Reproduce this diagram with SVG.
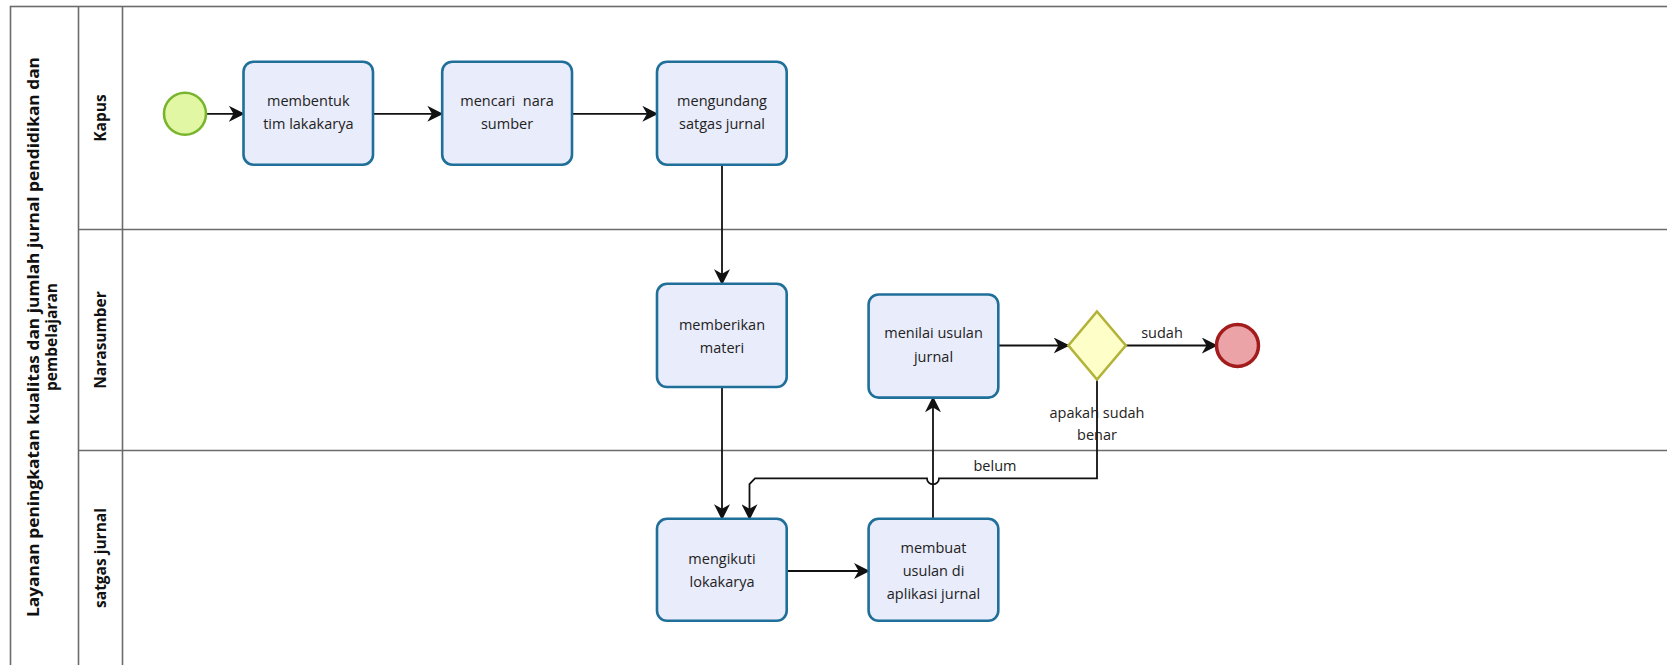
<svg xmlns="http://www.w3.org/2000/svg" width="1667" height="665" viewBox="0 0 1667 665">
<defs>
<style>
.lane{fill:none;stroke:#6b6b6b;stroke-width:1.6}
.task{fill:#e9ecfb;stroke:#1f6f99;stroke-width:2.6}
.t{font-family:"Open Sans",sans-serif;font-size:14.5px;fill:#222;text-anchor:middle}
.h{font-family:"Open Sans",sans-serif;font-size:15.5px;font-weight:bold;fill:#111;text-anchor:middle}
.c{fill:none;stroke:#111;stroke-width:1.8}
</style>
<marker id="arr" viewBox="0 0 12 12" refX="11" refY="6" markerWidth="16" markerHeight="16" markerUnits="userSpaceOnUse" orient="auto">
<path d="M0,0 L12,6 L0,12 L3.5,6 z" fill="#111"/>
</marker>
</defs>
<rect width="1667" height="665" fill="#fff"/>
<g id="pool">
<rect class="lane" x="10.5" y="6.5" width="1670" height="680"/>
<line class="lane" x1="78.5" y1="6.5" x2="78.5" y2="665"/>
<line class="lane" x1="122.5" y1="6.5" x2="122.5" y2="665"/>
<line class="lane" x1="78.5" y1="229.5" x2="1667" y2="229.5"/>
<line class="lane" x1="78.5" y1="450.5" x2="1667" y2="450.5"/>
<text class="h" transform="translate(39,337) rotate(-90)" textLength="560" lengthAdjust="spacingAndGlyphs">Layanan peningkatan kualitas dan jumlah jurnal pendidikan dan</text>
<text class="h" transform="translate(57,337) rotate(-90)">pembelajaran</text>
</g>
<g id="lane-kapus"><text class="h" transform="translate(106,118) rotate(-90)">Kapus</text></g>
<g id="lane-narasumber"><text class="h" transform="translate(106,340) rotate(-90)">Narasumber</text></g>
<g id="lane-satgas"><text class="h" transform="translate(106,558) rotate(-90)">satgas jurnal</text></g>
<g id="connectors">
<line class="c" x1="206" y1="113.8" x2="243.5" y2="113.8" marker-end="url(#arr)"/>
<line class="c" x1="373" y1="113.8" x2="442" y2="113.8" marker-end="url(#arr)"/>
<line class="c" x1="572" y1="113.8" x2="657" y2="113.8" marker-end="url(#arr)"/>
<line class="c" x1="722" y1="164.8" x2="722" y2="283.8" marker-end="url(#arr)"/>
<line class="c" x1="722" y1="387" x2="722" y2="518.8" marker-end="url(#arr)"/>
<line class="c" x1="786.7" y1="571" x2="868.6" y2="571" marker-end="url(#arr)"/>
<line class="c" x1="933" y1="518.8" x2="933" y2="397.6" marker-end="url(#arr)"/>
<line class="c" x1="998.3" y1="345.5" x2="1068.4" y2="345.5" marker-end="url(#arr)"/>
<line class="c" x1="1125.8" y1="345.5" x2="1216.5" y2="345.5" marker-end="url(#arr)"/>
<path class="c" d="M1097,379.5 L1097,478.4 L939,478.4 A6,6 0 0 1 927,478.4 L755,478.4 L749.5,484 L749.5,518.8" marker-end="url(#arr)"/>
<text class="t" x="1162" y="338">sudah</text>
<text class="t" x="995" y="471">belum</text>
</g>
<g id="start"><circle cx="185" cy="113.8" r="21" fill="#e2f7a4" stroke="#79b52c" stroke-width="2.6"/></g>
<g id="task1"><rect class="task" x="243.5" y="61.7" width="129.5" height="103" rx="10"/>
<text class="t" x="308.3" y="106">membentuk</text><text class="t" x="308.3" y="129">tim lakakarya</text></g>
<g id="task2"><rect class="task" x="442.2" y="61.7" width="129.8" height="103" rx="10"/>
<text class="t" x="507" y="106" xml:space="preserve">mencari  nara</text><text class="t" x="507" y="129">sumber</text></g>
<g id="task3"><rect class="task" x="657" y="61.7" width="129.7" height="103" rx="10"/>
<text class="t" x="722" y="106">mengundang</text><text class="t" x="722" y="129">satgas jurnal</text></g>
<g id="task4"><rect class="task" x="657" y="283.8" width="129.7" height="103.2" rx="10"/>
<text class="t" x="722" y="330">memberikan</text><text class="t" x="722" y="353">materi</text></g>
<g id="task5"><rect class="task" x="868.6" y="294.5" width="129.7" height="103.1" rx="10"/>
<text class="t" x="933.5" y="338">menilai usulan</text><text class="t" x="933.5" y="362">jurnal</text></g>
<g id="gateway"><polygon points="1097,311.5 1125.8,345.5 1097,379.5 1068.4,345.5" fill="#fefec8" stroke="#b3b33a" stroke-width="2.6"/>
<text class="t" x="1097" y="417.5">apakah sudah</text><text class="t" x="1097" y="440">benar</text></g>
<g id="end"><circle cx="1237.5" cy="345.5" r="21" fill="#eba3a8" stroke="#a31c1c" stroke-width="3.5"/></g>
<g id="task6"><rect class="task" x="657" y="518.8" width="129.7" height="102" rx="10"/>
<text class="t" x="722" y="564">mengikuti</text><text class="t" x="722" y="587">lokakarya</text></g>
<g id="task7"><rect class="task" x="868.6" y="518.8" width="129.7" height="102" rx="10"/>
<text class="t" x="933.5" y="552.5">membuat</text><text class="t" x="933.5" y="576">usulan di</text><text class="t" x="933.5" y="599">aplikasi jurnal</text></g>
</svg>
